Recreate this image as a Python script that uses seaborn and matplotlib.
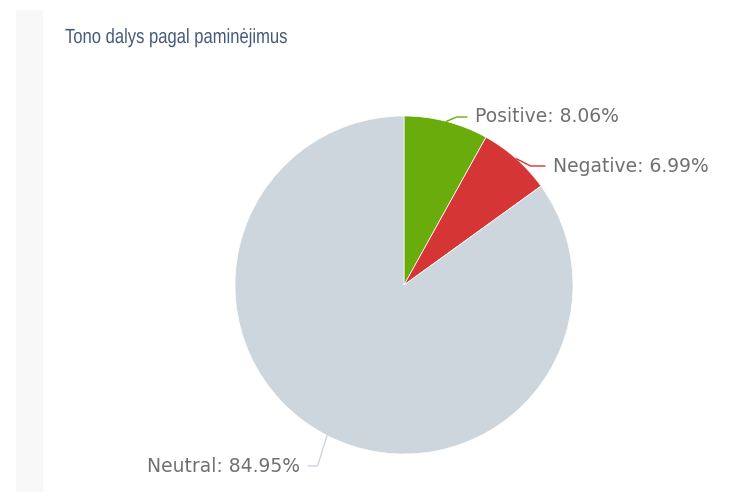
import seaborn as sns
import numpy as np
import matplotlib.pyplot as plt
from matplotlib.patches import Rectangle, PathPatch
from matplotlib.textpath import TextPath
from matplotlib.font_manager import FontProperties
from matplotlib.transforms import Affine2D

title = 'Tono dalys pagal paminėjimus'
labels = ['Positive', 'Negative', 'Neutral']
shares = [8.06, 6.99, 84.95]
colors = ['#6aac0c', '#d53535', '#cdd5dd']

sns.set_style('white')
plt.rcParams['font.family'] = ['DejaVu Sans']

W, H = 736, 492
fig = plt.figure(figsize=(W / 100, H / 100), dpi=100)
ax = fig.add_axes([0, 0, 1, 1])

# faint panel strip on the left
ax.add_patch(Rectangle((16, 0), 27, H - 10, color='#f8f8f8', lw=0, zorder=0))

cx, cy, r = 404, H - 285, 169
wedges, _ = ax.pie(shares, colors=colors, startangle=90, counterclock=False,
                   center=(cx, cy), radius=r, frame=True,
                   wedgeprops=dict(linewidth=0.5, edgecolor='white'))
ax.set_xlim(0, W)
ax.set_ylim(0, H)
ax.axis('off')

# label positions (pixel coords, y from top) and alignment
lab_pos = [(475, 117, 'left'), (553, 166, 'left'), (300, 466, 'right')]
for w, name, val, (lx, ly, ha) in zip(wedges, labels, shares, lab_pos):
    ang = np.deg2rad((w.theta1 + w.theta2) / 2)
    ex, ey = cx + r * np.cos(ang), cy + r * np.sin(ang)
    ty = H - ly
    kx = lx - 8 if ha == 'left' else lx + 8
    ax.plot([ex, (ex + kx) / 2, kx], [ey, ty, ty], color=w.get_facecolor(),
            lw=1, solid_capstyle='round')
    ax.text(lx, ty, f'{name}: {val:.2f}%', ha=ha, va='center',
            fontsize=13.5, color='#707070')

# condensed title: squeeze a text path horizontally
fp = FontProperties(family=['Liberation Sans', 'DejaVu Sans'])
tp = TextPath((0, 0), title, size=20.5, prop=fp)
tr = Affine2D().scale(0.81, 1).translate(65, H - 43) + ax.transData
ax.add_patch(PathPatch(tp, transform=tr, color='#455a78', lw=0))

fig.savefig('out.png', dpi=100)
